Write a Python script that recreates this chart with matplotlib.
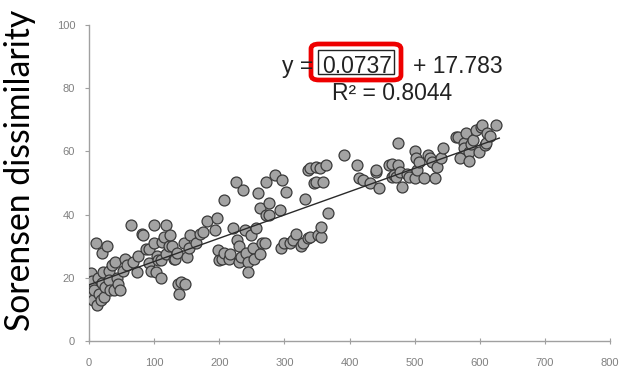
import matplotlib
matplotlib.use("Agg")
import matplotlib.pyplot as plt
from matplotlib.patches import FancyBboxPatch, Rectangle
import numpy as np

x_vals = [2, 3, 3, 5, 6, 8, 11, 12, 14, 16, 18, 20, 20, 22, 23, 25, 28, 30, 31, 32, 36, 38, 40, 43, 45, 48, 52, 55, 58,
          64, 68, 73, 75, 81, 83, 88, 92, 92, 95, 100, 100, 103, 104, 106, 110, 110, 112, 115, 118, 118, 123, 124, 128,
          130, 132, 135, 136, 138, 141, 146, 147, 150, 153, 155,
          165, 170, 175, 181, 193, 196, 198, 200, 204, 208, 208, 215, 217, 221, 226, 228, 231, 231, 234, 236, 239, 241,
          244, 244, 249, 252, 254, 257, 259, 262, 262, 265, 270, 272, 272, 277, 277, 285, 293, 295, 296, 299, 303, 309,
          313, 318, 326, 328, 331, 336, 336, 339, 339, 346, 349, 349, 351, 354, 356, 357, 360, 364, 367, 392,
          411, 415, 420, 431, 441, 441, 446, 461, 466, 466, 469, 472, 474, 474, 477, 481, 489, 492, 500, 500, 502, 504,
          507, 515, 520, 523, 527, 531, 535, 541, 543, 563, 566, 569, 576, 576, 579, 584, 584, 587, 589, 595, 599, 602,
          604, 608, 610, 611, 615, 625]
y_vals = [15, 17.7, 21.5, 19, 13, 16, 31, 11.4, 20, 15, 13, 28, 18.3, 21.8, 14, 17, 30, 22, 19.3, 16, 24, 16, 25, 20, 18, 16, 22, 26, 24,
          36.7, 25, 21.8, 27, 34, 33.5, 29, 24.7, 29, 22, 31, 36.7, 21.8, 27, 25.6, 20, 25.6, 31.3, 33, 36.7, 27.4, 30, 33.5, 30,
          26, 26, 28, 18, 15, 18.7, 31, 18, 26.6, 29.4, 33.5,
          31, 34, 34.5, 38, 35, 39, 28.8, 25.6, 26, 44.6, 28, 26, 27.5, 35.8, 50.3, 32, 30, 25, 26.6, 47.8, 35, 28,
          25, 21.8, 33.5, 29.5, 26, 35.8, 46.8, 42, 27.5, 31, 31, 50.3, 40, 43.7, 40, 52.5, 41.5, 29.4, 51, 31, 47, 31,
          32, 34, 30, 31, 45, 32.5, 54, 33, 54.7, 50, 55, 50.4, 33.5, 54.7, 33, 36, 50.4, 55.7, 40.5, 59,
          55.7, 51.6, 51, 50, 53.5, 54, 48.4, 55.7, 52, 56, 52.5, 52, 62.6, 55.7, 53.5, 48.7, 53, 52, 60, 51.6, 58, 54,
          56.7, 51.6, 59, 58, 56.7, 51.6, 55, 58, 61, 64.5, 64.6, 58, 62.6, 61, 65.8, 59.8, 57, 62.5, 63.6, 66.8, 59.8, 67.7,
          68.4, 62, 62.6, 65.8, 65, 68.4]

slope = 0.0737
intercept = 17.783
r2 = 0.8044
fit_x = [0, 630]

x_ticks = [0, 100, 200, 300, 400, 500, 600, 700, 800]
y_ticks = [0, 20, 40, 60, 80, 100]

W, H = 620, 371
fig = plt.figure(figsize=(W / 100, H / 100), dpi=100)
ax = fig.add_axes([89 / W, (H - 341) / H, 521 / W, 316 / H])

ax.scatter(x_vals, y_vals, s=62, facecolor="#a3a3a3", edgecolor="#3a3a3a", linewidth=0.9, zorder=3)
fx = np.array(fit_x)
ax.plot(fx, slope * fx + intercept, color="#2a2a2a", lw=1.0, zorder=4)

ax.set_xlim(0, 800)
ax.set_ylim(0, 100)
ax.set_xticks(x_ticks)
ax.set_yticks(y_ticks)
ax.set_xticklabels([str(v) for v in x_ticks])
ax.set_yticklabels([str(v) for v in y_ticks])
for s in ["top", "right"]:
    ax.spines[s].set_visible(False)
for s in ["left", "bottom"]:
    ax.spines[s].set_color("#a0a0a0")
    ax.spines[s].set_linewidth(1.0)
ax.tick_params(axis="both", colors="#a0a0a0", labelcolor="#808080", labelsize=8, length=3, width=0.8)
ax.tick_params(axis="y", pad=7)
ax.tick_params(axis="x", direction="inout", length=4, pad=10)
for lab in ax.get_xticklabels() + ax.get_yticklabels():
    lab.set_family("Liberation Sans")

fig.text(20 / W, 1 - 170 / H, "Sorensen dissimilarity", rotation=90, ha="center", va="center",
         fontsize=24.3, family="Lato", color="black")

tf = dict(fontsize=16.5, family="Liberation Sans", color="#222222", va="baseline")
fig.text(282 / W, 1 - 73 / H, "y =", ha="left", **tf)
fig.text(322 / W, 1 - 73 / H, f"{slope:.4f}", ha="left", **tf)
fig.text(413 / W, 1 - 73 / H, f"+ {intercept:.3f}", ha="left", **tf)
fig.text(332 / W, 1 - 100 / H, f"R\u00b2 = {r2:.4f}", ha="left", **tf)

inner = Rectangle((318 / W, 1 - 74 / H), 76 / W, 24 / H, transform=fig.transFigure,
                  fill=False, edgecolor="#222222", lw=1.0)
fig.patches.append(inner)
box = FancyBboxPatch((311 / W, 1 - 80 / H), 90 / W, 36 / H, transform=fig.transFigure,
                     boxstyle="round,pad=0,rounding_size=0.013", fill=False,
                     edgecolor="#ee0000", lw=3.4)
fig.patches.append(box)

fig.savefig("out.png", dpi=100)
